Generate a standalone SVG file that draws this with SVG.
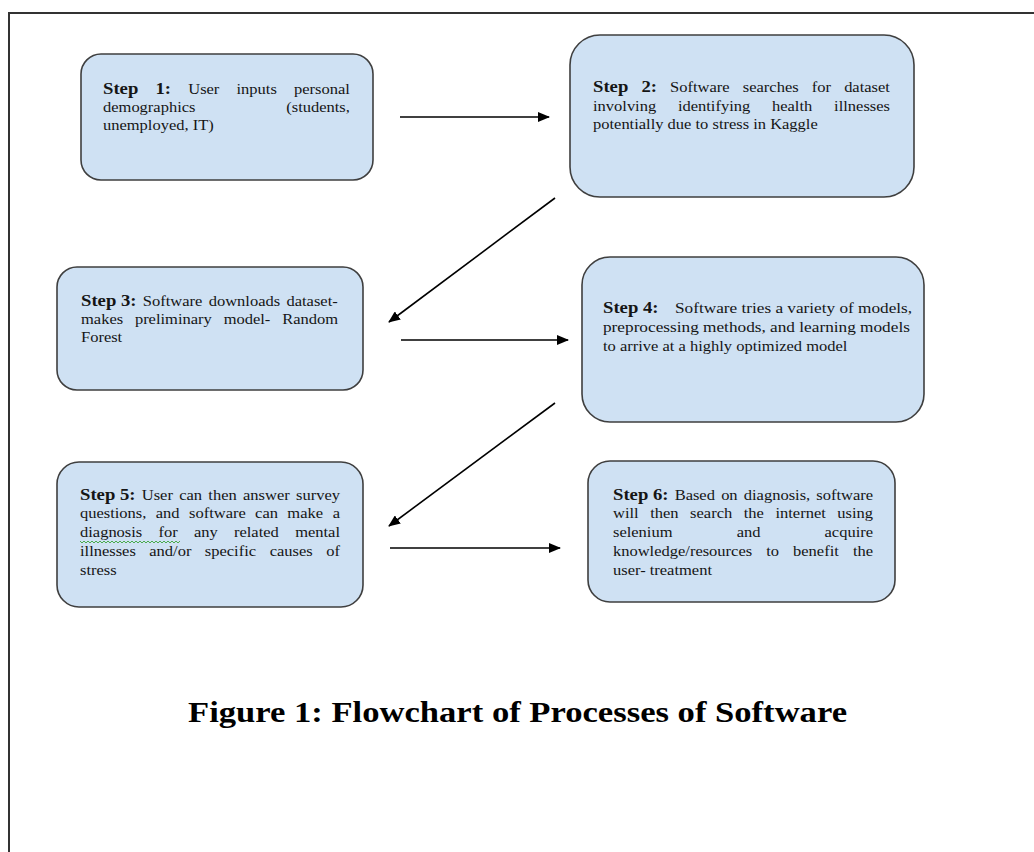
<svg xmlns="http://www.w3.org/2000/svg" width="1034" height="852" viewBox="0 0 1034 852">
<defs>
<marker id="ah" viewBox="0 0 12 10" refX="11" refY="5" markerWidth="12" markerHeight="10" markerUnits="userSpaceOnUse" orient="auto">
<path d="M0,0 L12,5 L0,10 Z" fill="#000"/>
</marker>
</defs>
<style>
.box{fill:#cfe1f3;stroke:#3f3f3f;stroke-width:1.6}
.t{font-family:"Liberation Serif","Times New Roman",serif;font-size:15px;fill:#151515}
.b{font-weight:bold;font-size:17px}
.conn line{stroke:#000;stroke-width:1.6;marker-end:url(#ah)}
.cap{font-family:"Liberation Serif","Times New Roman",serif;font-size:30px;font-weight:bold;fill:#000}
</style>
<rect x="0" y="0" width="1034" height="852" fill="#fff"/>
<path d="M9,852 L9,13 L1034,13" fill="none" stroke="#333" stroke-width="2"/>

<g id="step1">
<rect class="box" x="81" y="54" width="292" height="126" rx="20"/>
<g transform="translate(103,0) scale(1.1,1)">
<text class="t" y="94"><tspan class="b" x="0">Step</tspan><tspan class="b" x="47.7">1:</tspan><tspan x="77.5">User</tspan><tspan x="121.4">inputs</tspan><tspan x="173.7">personal</tspan></text>
<text class="t" y="112"><tspan x="0">demographics</tspan><tspan x="166.6">(students,</tspan></text>
<text class="t" x="0" y="130">unemployed, IT)</text>
</g>
</g>

<g id="step2">
<rect class="box" x="570" y="35" width="344" height="162" rx="30"/>
<g transform="translate(593,0) scale(1.1,1)">
<text class="t" y="92"><tspan class="b" x="0">Step</tspan><tspan class="b" x="44">2:</tspan><tspan x="70.1">Software</tspan><tspan x="136.2">searches</tspan><tspan x="198.9">for</tspan><tspan x="228.3">dataset</tspan></text>
<text class="t" y="111"><tspan x="0">involving</tspan><tspan x="77.2">identifying</tspan><tspan x="162.7">health</tspan><tspan x="219.2">illnesses</tspan></text>
<text class="t" x="0" y="129">potentially due to stress in Kaggle</text>
</g>
</g>

<g id="step3">
<rect class="box" x="57" y="267" width="306" height="123" rx="20"/>
<g transform="translate(81,0) scale(1.1,1)">
<text class="t" y="306"><tspan class="b" x="0">Step 3:</tspan><tspan x="56.2">Software</tspan><tspan x="116.1">downloads</tspan><tspan x="186.8">dataset-</tspan></text>
<text class="t" y="324"><tspan x="0">makes</tspan><tspan x="49">preliminary</tspan><tspan x="129.7">model-</tspan><tspan x="182.9">Random</tspan></text>
<text class="t" x="0" y="342">Forest</text>
</g>
</g>

<g id="step4">
<rect class="box" x="582" y="257" width="342" height="165" rx="28"/>
<g transform="translate(603,0) scale(1.1,1)">
<text class="t b" x="0" y="313">Step 4:</text>
<text class="t" x="65.5" y="313" textLength="215.5" lengthAdjust="spacingAndGlyphs">Software tries a variety of models,</text>
<text class="t" x="0" y="332" textLength="279" lengthAdjust="spacingAndGlyphs">preprocessing methods, and learning models</text>
<text class="t" x="0" y="351">to arrive at a highly optimized model</text>
</g>
</g>

<g id="step5">
<rect class="box" x="57" y="462" width="306" height="145" rx="22"/>
<g transform="translate(80,0) scale(1.1,1)">
<text class="t" y="500"><tspan class="b" x="0">Step 5:</tspan><tspan x="56.2">User</tspan><tspan x="90.2">can</tspan><tspan x="116.7">then</tspan><tspan x="148.2">answer</tspan><tspan x="196.4">survey</tspan></text>
<text class="t" y="518"><tspan x="0">questions,</tspan><tspan x="68.9">and</tspan><tspan x="99.1">software</tspan><tspan x="159.2">can</tspan><tspan x="188.5">make</tspan><tspan x="229.7">a</tspan></text>
<text class="t" y="537"><tspan x="0">diagnosis</tspan><tspan x="71.4">for</tspan><tspan x="103.6">any</tspan><tspan x="140">related</tspan><tspan x="195.6">mental</tspan></text>
<text class="t" y="556"><tspan x="0">illnesses</tspan><tspan x="63">and/or</tspan><tspan x="113.5">specific</tspan><tspan x="172.4">causes</tspan><tspan x="223.9">of</tspan></text>
<text class="t" x="0" y="575">stress</text>
</g>
<path d="M80,541 l2,2 l2,-2 l2,2 l2,-2 l2,2 l2,-2 l2,2 l2,-2 l2,2 l2,-2 l2,2 l2,-2 l2,2 l2,-2 l2,2 l2,-2 l2,2 l2,-2 l2,2 l2,-2 l2,2 l2,-2 l2,2 l2,-2 l2,2 l2,-2 l2,2 l2,-2 l2,2 l2,-2 l2,2 l2,-2 l2,2 l2,-2 l2,2 l2,-2 l2,2 l2,-2 l2,2 l2,-2 l2,2 l2,-2 l2,2 l2,-2 l2,2 l2,-2 l2,2 l2,-2 l2,2 l2,-2" fill="none" stroke="#3aa53a" stroke-width="0.9"/>
</g>

<g id="step6">
<rect class="box" x="588" y="461" width="307" height="141" rx="22"/>
<g transform="translate(613,0) scale(1.1,1)">
<text class="t" y="500"><tspan class="b" x="0">Step 6:</tspan><tspan x="56.05">Based</tspan><tspan x="98.3">on</tspan><tspan x="118.9">diagnosis,</tspan><tspan x="184.8">software</tspan></text>
<text class="t" y="518"><tspan x="0">will</tspan><tspan x="33.8">then</tspan><tspan x="70.1">search</tspan><tspan x="118.9">the</tspan><tspan x="147.7">internet</tspan><tspan x="203.9">using</tspan></text>
<text class="t" y="537"><tspan x="0">selenium</tspan><tspan x="112.4">and</tspan><tspan x="192.3">acquire</tspan></text>
<text class="t" y="556"><tspan x="0">knowledge/resources</tspan><tspan x="139.3">to</tspan><tspan x="163.7">benefit</tspan><tspan x="218.1">the</tspan></text>
<text class="t" x="0" y="575">user- treatment</text>
</g>
</g>

<g id="connectors" class="conn">
<line x1="400" y1="117" x2="549" y2="117"/>
<line x1="555" y1="198" x2="389" y2="322"/>
<line x1="401" y1="340" x2="568" y2="340"/>
<line x1="555" y1="403" x2="389" y2="526"/>
<line x1="390" y1="548" x2="560" y2="548"/>
</g>

<g id="caption">
<text class="cap" x="188" y="722" textLength="659" lengthAdjust="spacingAndGlyphs">Figure 1: Flowchart of Processes of Software</text>
</g>
</svg>
